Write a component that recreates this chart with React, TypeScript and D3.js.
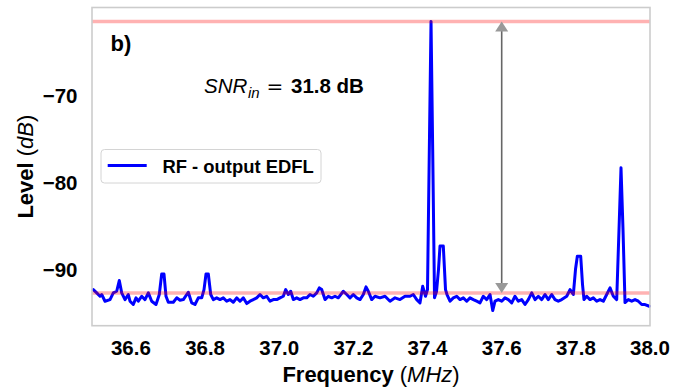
import React from "react";
import * as d3 from "d3";

// Spectrum trace: frequency (MHz) and level (dB)
const freqMHz = [
  36.4985, 36.5077, 36.5166, 36.5212, 36.5301, 36.5436, 36.5525, 36.5616, 36.5686, 36.5751,
  36.584, 36.5929, 36.5975, 36.6064, 36.6137, 36.6199, 36.629, 36.638, 36.6469, 36.656,
  36.6676, 36.6765, 36.683, 36.6892, 36.6946, 36.7008, 36.7143, 36.7235, 36.7324, 36.7413,
  36.7547, 36.7639, 36.7728, 36.7817, 36.7909, 36.7971, 36.8025, 36.8087, 36.8152, 36.8222,
  36.8313, 36.8402, 36.8491, 36.8583, 36.8672, 36.8761, 36.8853, 36.8942, 36.9031, 36.9123,
  36.9212, 36.9301, 36.9392, 36.9481, 36.957, 36.9662, 36.9751, 36.984, 36.9932, 37.0021,
  37.011, 37.0175, 37.0245, 37.0309, 37.038, 37.0471, 37.056, 37.0649, 37.0741, 37.083,
  37.0919, 37.1011, 37.1081, 37.1145, 37.1235, 37.1324, 37.1415, 37.1504, 37.1593, 37.1728,
  37.182, 37.1909, 37.1998, 37.209, 37.2179, 37.2268, 37.234, 37.2402, 37.2494, 37.2583,
  37.2718, 37.2853, 37.2988, 37.3123, 37.3257, 37.3392, 37.3527, 37.3616, 37.3708, 37.3797,
  37.387, 37.3945, 37.3999, 37.4048, 37.4094, 37.4139, 37.4188, 37.4242, 37.4296, 37.4336,
  37.4425, 37.4485, 37.4525, 37.4606, 37.4695, 37.4787, 37.4876, 37.4965, 37.5056, 37.5145,
  37.5235, 37.5326, 37.5415, 37.5504, 37.5596, 37.5685, 37.5758, 37.582, 37.5909, 37.6,
  37.6089, 37.6179, 37.627, 37.6359, 37.6448, 37.654, 37.6629, 37.6718, 37.681, 37.6899,
  37.6988, 37.7079, 37.7168, 37.7257, 37.7349, 37.7438, 37.7527, 37.7619, 37.7754, 37.7843,
  37.7932, 37.7991, 37.804, 37.8131, 37.818, 37.822, 37.8293, 37.8382, 37.8471, 37.8563,
  37.8652, 37.8741, 37.8832, 37.8922, 37.9011, 37.9102, 37.9164, 37.9218, 37.9272, 37.9326,
  37.9415, 37.9507, 37.9596, 37.9685, 37.9777, 37.9866, 37.9982,
];
const levelDb = [
  -92.34, -92.72, -93.11, -92.91, -93.68, -93.49, -92.72, -92.53, -91.3, -92.72,
  -93.49, -92.91, -93.68, -94.06, -93.29, -93.68, -93.11, -93.49, -92.72, -93.68,
  -94.06, -92.91, -90.55, -90.55, -93.11, -93.8, -93.8, -93.29, -93.57, -93.49,
  -92.65, -93.87, -94.06, -93.29, -93.29, -92.34, -90.55, -90.55, -92.91, -93.49,
  -93.29, -93.49, -93.29, -93.68, -93.49, -93.8, -93.29, -93.68, -93.29, -93.95,
  -93.68, -93.49, -93.29, -92.91, -93.29, -93.11, -93.68, -93.49, -93.49, -93.29,
  -93.11, -92.34, -92.91, -92.53, -93.49, -93.29, -93.49, -93.29, -93.29, -92.91,
  -93.11, -92.72, -92.14, -92.34, -93.49, -93.11, -93.29, -93.11, -93.29, -92.53,
  -92.91, -93.29, -92.91, -93.29, -93.49, -92.91, -92.03, -92.53, -93.49, -93.11,
  -93.29, -93.11, -93.68, -93.29, -93.49, -93.11, -93.11, -92.91, -93.49, -93.87,
  -91.96, -93.11, -92.34, -76.2, -61.45, -76.2, -93.29, -92.57, -90.0, -87.33,
  -87.33, -92.34, -92.91, -93.68, -93.29, -93.11, -93.49, -93.29, -93.68, -93.29,
  -93.49, -93.68, -93.87, -93.11, -93.49, -92.91, -94.76, -93.68, -93.49, -93.68,
  -93.29, -93.49, -93.87, -93.11, -93.68, -93.49, -94.06, -93.49, -92.72, -93.49,
  -93.11, -93.49, -92.91, -93.49, -92.91, -93.49, -93.68, -93.49, -93.11, -92.34,
  -92.91, -90.0, -88.5, -88.5, -91.76, -93.49, -93.11, -93.49, -93.29, -93.68,
  -93.49, -93.68, -92.91, -92.14, -93.11, -93.49, -85.43, -78.32, -85.43, -93.84,
  -93.49, -93.68, -93.49, -93.68, -94.06, -94.06, -94.26,
];

const xTicks = [36.6, 36.8, 37.0, 37.2, 37.4, 37.6, 37.8, 38.0];
const yTicks = [-90, -80, -70];
const xDomain = [36.495, 38.0];
const yDomain = [-96.5, -59.85];
const peakLevel = -61.45;
const floorLevel = -92.72;
const arrowFreq = 37.6;
const snrIn = 31.8;
const seriesName = "RF - output EDFL";
const panelTag = "b)";

const W = 688;
const H = 388;
const PL = 92;
const PR = 650;
const PT = 7.5;
const PB = 325.7;
const FONT = "'Liberation Sans', Arial, Helvetica, sans-serif";
const MATHFONT = "'DejaVu Sans', sans-serif";

export default function App() {
  const x = d3.scaleLinear().domain(xDomain).range([PL, PR]);
  const y = d3.scaleLinear().domain(yDomain).range([PB, PT]);
  const pts: [number, number][] = freqMHz.map((f, i) => [f, levelDb[i]]);
  const linePath = d3
    .line<[number, number]>()
    .x((d) => x(d[0]))
    .y((d) => y(d[1]))(pts) as string;

  const ax = x(arrowFreq);
  const yTop = y(peakLevel);
  const yBot = y(floorLevel);
  const hl = 10;
  const hw = 6.5;
  const fmtX = d3.format(".1f");
  const fmtY = (v: number) => (v < 0 ? "\u2212" + Math.abs(v) : String(v));

  return (
    <svg
      width={W}
      height={H}
      style={{ position: "absolute", left: 0, top: 0, background: "#fff" }}
      fontFamily={FONT}
    >
      <rect x={0} y={0} width={W} height={H} fill="#fff" />
      {/* spectrum */}
      <path d={linePath} fill="none" stroke="#0000ff" strokeWidth={3} strokeLinejoin="round" strokeLinecap="round" />
      {/* reference lines */}
      <line x1={PL} x2={PR} y1={yTop} y2={yTop} stroke="red" strokeOpacity={0.3} strokeWidth={3.5} />
      <line x1={PL} x2={PR} y1={yBot} y2={yBot} stroke="red" strokeOpacity={0.3} strokeWidth={3.5} />
      {/* double arrow */}
      <line x1={ax} x2={ax} y1={yTop + 2} y2={yBot - 2} stroke="#666" strokeWidth={1.6} />
      <path d={`M${ax},${yTop} L${ax - hw},${yTop + hl} L${ax + hw},${yTop + hl} Z`} fill="#999" />
      <path d={`M${ax},${yBot} L${ax - hw},${yBot - hl} L${ax + hw},${yBot - hl} Z`} fill="#999" />
      {/* frame */}
      <rect x={PL} y={PT} width={PR - PL} height={PB - PT} fill="none" stroke="#cccccc" strokeWidth={1.6} />
      {/* x ticks */}
      {xTicks.map((t) => (
        <text key={t} x={x(t)} y={355} textAnchor="middle" fontSize={20.5} fontWeight="bold" fill="#000">
          {fmtX(t)}
        </text>
      ))}
      {/* y ticks */}
      {yTicks.map((t) => (
        <text key={t} x={77.5} y={y(t) + 7.3} textAnchor="end" fontSize={20.5} fontWeight="bold" fill="#000">
          {fmtY(t)}
        </text>
      ))}
      {/* axis labels */}
      <text x={(PL + PR) / 2} y={381.5} textAnchor="middle" fontSize={22} fill="#000">
        <tspan fontWeight="bold">Frequency </tspan>
        <tspan>(</tspan>
        <tspan fontStyle="italic">MHz</tspan>
        <tspan>)</tspan>
      </text>
      <text
        transform={`translate(33,${(PT + PB) / 2}) rotate(-90)`}
        textAnchor="middle"
        fontSize={22}
        fill="#000"
      >
        <tspan fontWeight="bold">Level </tspan>
        <tspan>(</tspan>
        <tspan fontStyle="italic">dB</tspan>
        <tspan>)</tspan>
      </text>
      {/* panel tag */}
      <text x={110.5} y={50.5} fontSize={22} fontWeight="bold" fill="#000">
        {panelTag}
      </text>
      {/* SNR annotation */}
      <text x={204} y={93} fontSize={20.5} fill="#000">
        <tspan fontStyle="italic">SNR</tspan>
        <tspan x={248} fontStyle="italic" fontSize={15} dy={5}>in</tspan>
        <tspan x={266.5} dy={-5} fontFamily={MATHFONT} fontSize={20}>=</tspan>
        <tspan x={291} fontWeight="bold">{snrIn.toFixed(1)} dB</tspan>
      </text>
      {/* legend */}
      <rect x={101} y={149.5} width={220} height={33.5} rx={3.5} fill="#fff" fillOpacity={0.8} stroke="#d4d4d4" strokeWidth={1} />
      <line x1={107.7} x2={146.7} y1={165.5} y2={165.5} stroke="#0000ff" strokeWidth={3} />
      <text x={162.5} y={172.5} fontSize={18.4} fontWeight="bold" fill="#000">
        {seriesName}
      </text>
    </svg>
  );
}
